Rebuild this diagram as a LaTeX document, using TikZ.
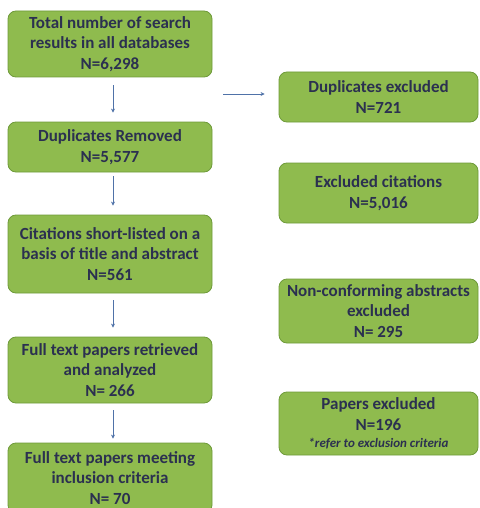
\documentclass[tikz,border=0pt]{standalone}
\usepackage{fontspec}
\setmainfont{Carlito}
\usetikzlibrary{arrows.meta}
\definecolor{boxfill}{HTML}{8FBB4E}
\definecolor{boxedge}{HTML}{6E9A3A}
\definecolor{txt}{HTML}{2B3050}
\definecolor{arr}{HTML}{4F72A8}
\tikzset{
  flowbox/.style={draw=boxedge, line width=0.8pt, fill=boxfill, rounded corners=8pt,
    align=center, text=txt, font=\fontsize{17}{20.5}\selectfont\bfseries, inner sep=0pt},
  leftbox/.style={flowbox, minimum width=204pt},
  rightbox/.style={flowbox, minimum width=199pt},
  flowarrow/.style={draw=arr, line width=0.8pt, -{Stealth[length=4pt,width=4pt]}}
}
\begin{document}
\begin{tikzpicture}[x=1pt,y=-1pt]
\useasboundingbox (0,0) rectangle (479,508);
\clip (0,0) rectangle (479,508);
% left column
\node[leftbox, minimum height=66pt] (b1) at (110,44) {Total number of search\\results in all databases\\N=6,298};
\node[leftbox, minimum height=50pt] (b2) at (110,147) {Duplicates Removed\\N=5,577};
\node[leftbox, minimum height=78pt] (b3) at (110,254) {Citations short-listed on a\\basis of title and abstract\\N=561};
\node[leftbox, minimum height=66pt] (b4) at (110,370) {Full text papers retrieved\\and analyzed\\N= 266};
\node[leftbox, minimum height=70pt] (b5) at (110,478) {Full text papers meeting\\inclusion criteria\\N= 70};
% right column
\node[rightbox, minimum height=50pt] (r1) at (378.5,97) {Duplicates excluded\\N=721};
\node[rightbox, minimum height=60pt] (r2) at (378.5,193) {Excluded citations\\N=5,016};
\node[rightbox, minimum height=64pt] (r3) at (378.5,311) {Non-conforming abstracts\\excluded\\N= 295};
\node[rightbox, minimum height=63pt] (r4) at (378.5,423.5) {Papers excluded\\N=196\\[-3pt]{\fontsize{13}{15}\selectfont\itshape *refer to exclusion criteria}};
% arrows
\draw[flowarrow, shorten <=8pt, shorten >=9pt] ([xshift=3pt]b1.south) -- ([xshift=3pt]b2.north);
\draw[flowarrow, shorten <=4pt, shorten >=9pt] ([xshift=3pt]b2.south) -- ([xshift=3pt]b3.north);
\draw[flowarrow, shorten <=7pt, shorten >=9pt] ([xshift=3pt]b3.south) -- ([xshift=3pt]b4.north);
\draw[flowarrow, shorten <=7pt, shorten >=4pt] ([xshift=3pt]b4.south) -- ([xshift=3pt]b5.north);
\coordinate (hs) at (223,94);
\draw[flowarrow, shorten >=14pt] (hs) -- (r1.west |- hs);
\end{tikzpicture}
\end{document}
